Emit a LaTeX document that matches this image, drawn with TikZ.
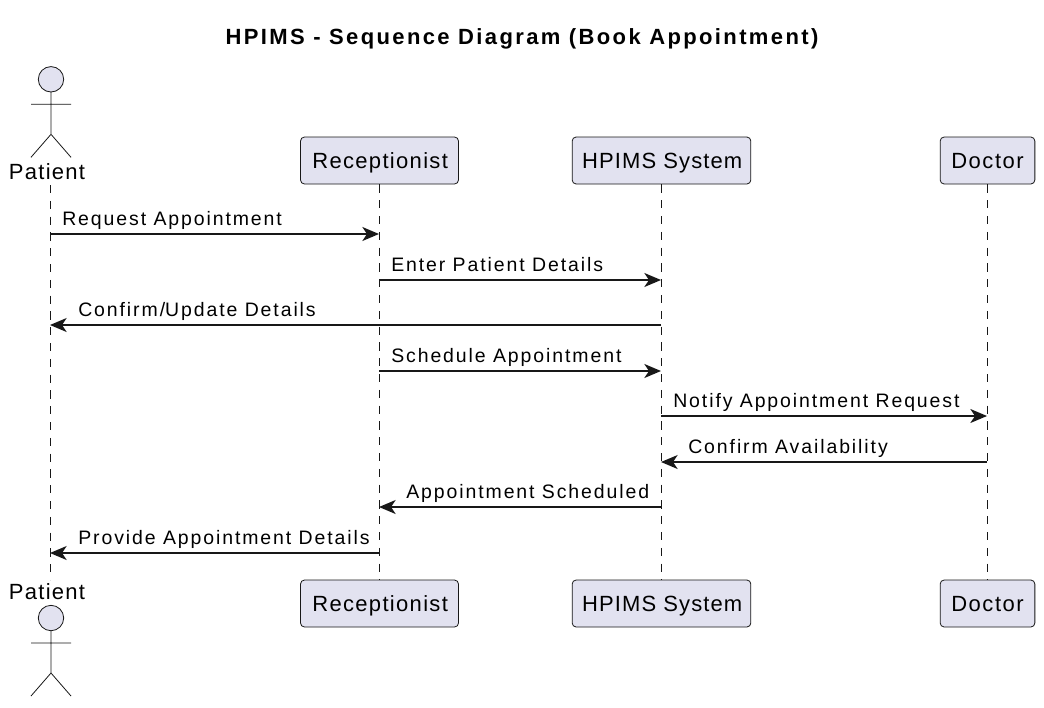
\documentclass[tikz,border=0pt]{standalone}
\usepackage{fontspec}
\setmainfont{Liberation Sans}
\usetikzlibrary{arrows.meta}
\definecolor{fillc}{HTML}{E2E2F0}
\definecolor{linec}{HTML}{181818}
\tikzset{x=0.75pt,y=-0.75pt,
 part/.style={draw=linec,fill=fillc,rounded corners=3pt,line width=0.6pt,minimum height=35.25pt,inner sep=0pt,font=\fontsize{16.5}{18}\selectfont,text=black,text height=12pt,text depth=0pt},
 life/.style={draw=linec,line width=0.85pt,dash pattern=on 6.2pt off 5.65pt,xshift=-0.375pt},
 msg/.style={draw=linec,line width=1pt,-{Stealth[length=12.5pt,width=10.5pt,inset=3.5pt]}},
 lbl/.style={font=\fontsize{14.6}{16}\selectfont,text=black,anchor=base west,inner sep=0pt},
 act/.style={draw=linec,line width=0.6pt},
 lifeact/.style={font=\fontsize{16.5}{18}\selectfont,anchor=base,inner sep=0pt}}
\newcommand{\actor}[2]{%
 \draw[act,fill=fillc] (#1,#2) circle (12.7);
 \draw[act] (#1,#2+12.7) -- (#1,#2+55) (#1-20,#2+25) -- (#1+20,#2+25) (#1,#2+55) -- (#1-20,#2+78) (#1,#2+55) -- (#1+20,#2+78);}
\begin{document}
\begin{tikzpicture}
\useasboundingbox (0,0) rectangle (1044,707);
\fill[white] (0,0) rectangle (1044,707);
\node[font=\bfseries\fontsize{16.5}{18}\selectfont,anchor=base,inner sep=0pt] (title) at (522,44) {\addfontfeature{LetterSpace=10.8}HPIMS - Sequence Diagram (Book Appointment)};
\coordinate (pt) at (50.5,185); \coordinate (pb) at (50.5,580);
\node[part,minimum width=118.5pt,text width=106pt,align=center] (r1) at (379.5,160.5) {\hspace*{1pt}\addfontfeature{LetterSpace=6}Receptionist};
\node[part,minimum width=134pt] (h1) at (661.5,160.5) {\hspace*{1pt}\addfontfeature{LetterSpace=5}HPIMS System};
\node[part,minimum width=71pt] (d1) at (987.5,160.5) {\addfontfeature{LetterSpace=7}Doctor};
\node[part,minimum width=118.5pt,text width=106pt,align=center] (r2) at (379.5,603.5) {\hspace*{1pt}\addfontfeature{LetterSpace=6}Receptionist};
\node[part,minimum width=134pt] (h2) at (661.5,603.5) {\hspace*{1pt}\addfontfeature{LetterSpace=5}HPIMS System};
\node[part,minimum width=71pt] (d2) at (987.5,603.5) {\addfontfeature{LetterSpace=7}Doctor};
\actor{51}{79.3}
\actor{51}{618}
\node[lifeact] (p1) at (47,179) {\addfontfeature{LetterSpace=5.8}Patient};
\node[lifeact] (p2) at (47,599) {\addfontfeature{LetterSpace=5.8}Patient};
\draw[life] (pt) -- (pb);
\draw[life] (r1) -- (r2);
\draw[life] (h1) -- (h2);
\draw[life] (d1) -- (d2);
\foreach \a/\b/\y/\lx/\t in {
 50/379/234/62/Request Appointment,
 379/661/280/391/Enter Patient Details,
 661/50/325/78/Confirm\slash Update Details,
 379/661/371/391/Schedule Appointment,
 661/987/416/673/Notify Appointment Request,
 987/661/462/688/Confirm Availability,
 661/379/507/406/Appointment Scheduled,
 379/50/553/78/Provide Appointment Details}
 {\draw[msg] (\a,\y) -- (\b,\y);
  \node[lbl] at (\lx,\y-8.2) {\addfontfeature{LetterSpace=9.8}\t};}
\end{tikzpicture}
\end{document}
